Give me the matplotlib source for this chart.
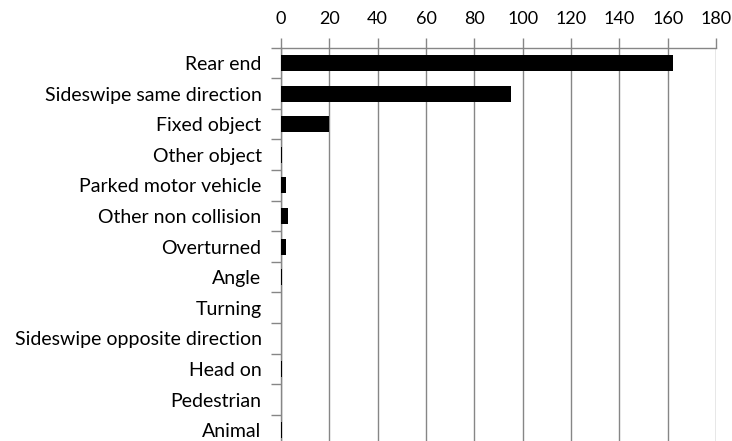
import matplotlib
matplotlib.use("Agg")
import matplotlib.pyplot as plt
import numpy as np

categories = ["Rear end", "Sideswipe same direction", "Fixed object", "Other object",
              "Parked motor vehicle", "Other non collision", "Overturned", "Angle",
              "Turning", "Sideswipe opposite direction", "Head on", "Pedestrian", "Animal"]
values = [162, 95, 20, 0.5, 2, 3, 2, 0.5, 0, 0, 0.5, 0, 0.5]
xticks = [0, 20, 40, 60, 80, 100, 120, 140, 160, 180]

plt.rcParams['font.family'] = ['Lato', 'DejaVu Sans']

fig = plt.figure(figsize=(7.32, 4.41), dpi=100)
ax = fig.add_axes([281/732, 1 - 445.5/441, 435/732, (445.5 - 47.7)/441])

y = np.arange(len(categories))
ax.barh(y, values, height=0.52, color='black', zorder=3)

ax.set_xlim(0, 180)
ax.set_ylim(len(categories) - 0.5, -0.5)
ax.set_xticks(xticks)
ax.xaxis.tick_top()
ax.tick_params(axis='x', which='major', direction='out', length=7, width=1,
               color='#868686', labelsize=13, pad=8)
ax.xaxis.grid(True, color='#868686', linewidth=1, zorder=0)

ax.set_yticks(np.arange(-0.5, len(categories), 1.0))
ax.set_yticklabels([])
ax.set_yticks(y, minor=True)
ax.set_yticklabels(categories, minor=True)
ax.tick_params(axis='y', which='major', direction='out', length=7, width=1, color='#868686')
ax.tick_params(axis='y', which='minor', length=0, labelsize=14, pad=14)

for s in ['bottom', 'right']:
    ax.spines[s].set_visible(False)
for s in ['top', 'left']:
    ax.spines[s].set_color('#868686')
    ax.spines[s].set_linewidth(1)

fig.savefig("out.png", dpi=100)
